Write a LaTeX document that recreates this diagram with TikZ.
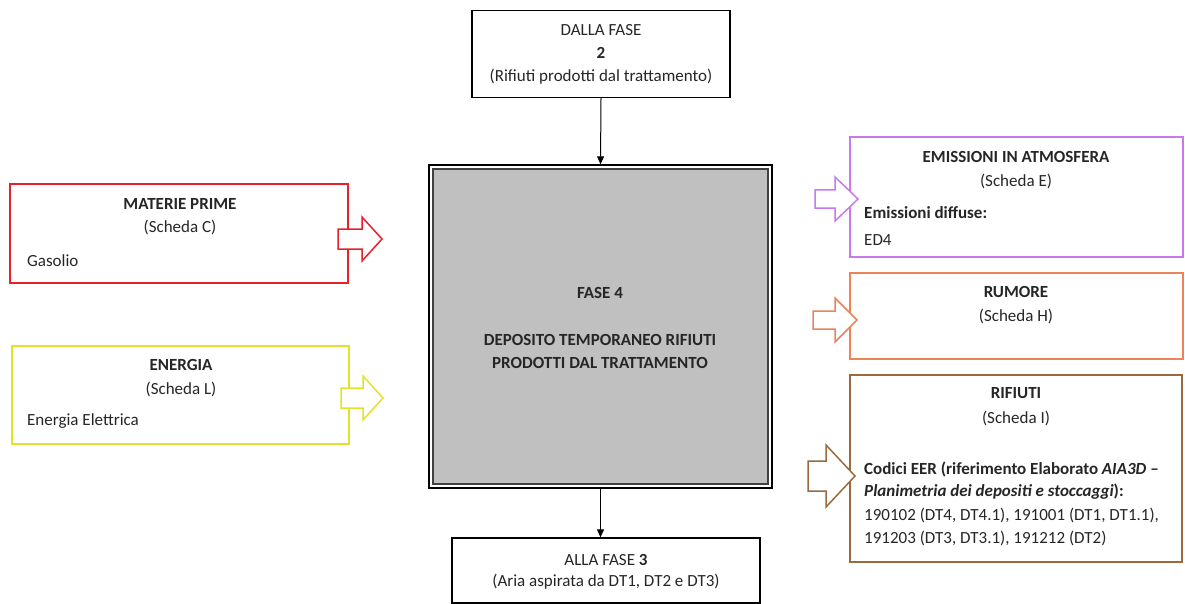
\documentclass[tikz,border=0pt]{standalone}
\usepackage{fontspec}
\setmainfont{Carlito}
\usetikzlibrary{arrows.meta}
\definecolor{txt}{HTML}{262626}
\definecolor{cred}{HTML}{E8202A}
\definecolor{cyel}{HTML}{E2E22A}
\definecolor{cpur}{HTML}{C77AEE}
\definecolor{cora}{HTML}{EE8258}
\definecolor{cbro}{HTML}{9A6A3C}
\definecolor{cgray}{HTML}{C0C0C0}
\tikzset{
  box/.style={draw, line width=1.5pt, inner sep=0pt},
  lbl/.style={text=txt, inner sep=0pt, font=\fontsize{17}{20}\selectfont},
  lbll/.style={lbl, anchor=west},
  flow/.style={-{Triangle[length=8pt,width=7pt]}, line width=1pt, black},
  barrow/.style={line width=1.5pt, fill=white, line join=miter}
}
\newcommand\blockarr[7]{%
  \draw[barrow, draw=#1] (#2,#5-#6) -- (#3,#5-#6) -- (#3,#5-#7) -- (#4,#5) -- (#3,#5+#7) -- (#3,#5+#6) -- (#2,#5+#6) -- cycle;}
\begin{document}
\begin{tikzpicture}[x=1pt,y=-1pt]
\useasboundingbox[fill=white] (0,0) rectangle (1185,604);
% boxes
\node[box, draw=black, line width=1.3pt, minimum width=258pt, minimum height=87pt] (top) at (601,54) {};
\node[box, draw=black, line width=1.3pt, minimum width=308pt, minimum height=65pt] (bot) at (606,570.5) {};
\node[box, draw=black, line width=1.4pt, minimum width=343pt, minimum height=323pt] (ctr) at (600.5,326.5) {};
\node[draw=black!75, line width=1.2pt, fill=cgray, minimum width=335pt, minimum height=315pt, inner sep=0pt] (ctrin) at (600.5,326.5) {};
\node[box, draw=cred, minimum width=338pt, minimum height=99pt] (mp) at (179,233.5) {};
\node[box, draw=cyel, minimum width=337pt, minimum height=98pt] (en) at (180.5,395) {};
\node[box, draw=cpur, minimum width=333pt, minimum height=120pt] (em) at (1016.5,197) {};
\node[box, draw=cora, minimum width=333pt, minimum height=86pt] (ru) at (1016.5,316) {};
\node[box, draw=cbro, minimum width=332pt, minimum height=187pt] (ri) at (1016,468.5) {};
% flow arrows
\draw[flow] (top.south) -- (ctr.north);
\draw[flow] (ctr.south) -- (ctr.south |- bot.north);
% block arrows
\blockarr{cred}{338}{362}{382}{239}{10}{22}
\blockarr{cyel}{341}{363}{383}{398}{10}{22}
\blockarr{cpur}{815}{835}{858}{199}{9}{22}
\blockarr{cora}{813}{835}{857}{320}{9}{22}
\blockarr{cbro}{808}{826}{855}{476}{15}{31}
% texts
\node[lbl] (t1) at (601,30) {DALLA FASE};
\node[lbl] (t2) at (601,53) {\bfseries 2};
\node[lbl] (t3) at (601,77) {(Rifiuti prodotti dal trattamento)};
\node[lbl] (b1) at (606,560) {ALLA FASE \textbf{3}};
\node[lbl] (b2) at (606,582) {(Aria aspirata da DT1, DT2 e DT3)};
\node[lbl, font=\fontsize{17}{20}\selectfont\bfseries] (c1) at (600,293) {FASE 4};
\node[lbl, font=\fontsize{17}{20}\selectfont\bfseries] (c2) at (600,340) {DEPOSITO TEMPORANEO RIFIUTI};
\node[lbl, font=\fontsize{17}{20}\selectfont\bfseries] (c3) at (600,363) {PRODOTTI DAL TRATTAMENTO};
\node[lbl] (m1) at (180,204) {\bfseries MATERIE PRIME};
\node[lbl] (m2) at (180,227) {(Scheda C)};
\node[lbll] (m3) at (27,261) {Gasolio};
\node[lbl] (e1) at (181,365) {\bfseries ENERGIA};
\node[lbl] (e2) at (181,389) {(Scheda L)};
\node[lbll] (e3) at (27,421) {Energia Elettrica};
\node[lbl] (a1) at (1016,157) {\bfseries EMISSIONI IN ATMOSFERA};
\node[lbl] (a2) at (1016,181) {(Scheda E)};
\node[lbll] (a3) at (864,213) {\bfseries Emissioni diffuse:};
\node[lbll] (a4) at (864,240) {ED4};
\node[lbl] (r1) at (1016,292) {\bfseries RUMORE};
\node[lbl] (r2) at (1016,316) {(Scheda H)};
\node[lbl] (w1) at (1016,393) {\bfseries RIFIUTI};
\node[lbl] (w2) at (1016,418) {(Scheda I)};
\node[lbll] (w3) at (864,469) {\bfseries Codici EER (riferimento Elaborato \textit{AIA3D} –};
\node[lbll] (w4) at (864,492) {\bfseries\textit{Planimetria dei depositi e stoccaggi}):};
\node[lbll] (w5) at (864,515) {190102 (DT4, DT4.1), 191001 (DT1, DT1.1),};
\node[lbll] (w6) at (864,538) {191203 (DT3, DT3.1), 191212 (DT2)};
\end{tikzpicture}
\end{document}
